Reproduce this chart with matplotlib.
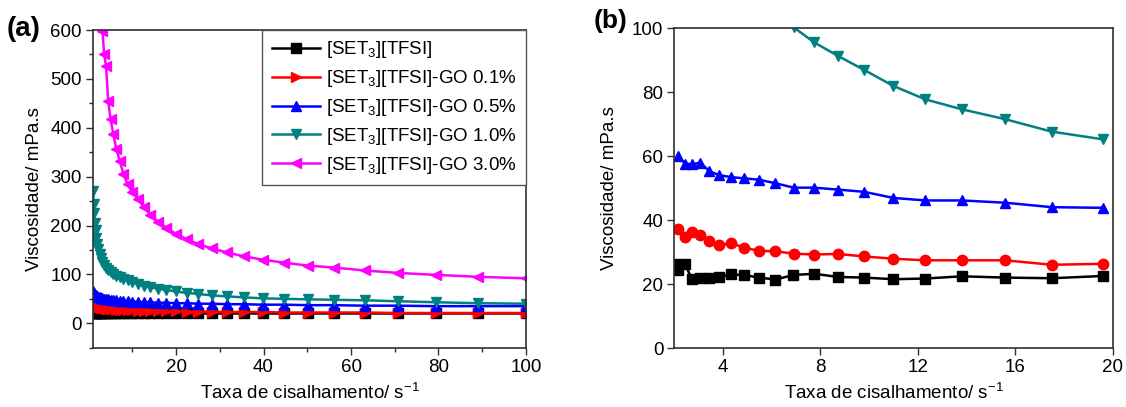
import matplotlib
matplotlib.use("Agg")
import matplotlib.pyplot as plt
from matplotlib.ticker import MultipleLocator

plt.rcParams['font.family'] = ['Liberation Sans', 'DejaVu Sans']
plt.rcParams['mathtext.fontset'] = 'custom'
plt.rcParams['mathtext.rm'] = 'Liberation Sans'
plt.rcParams['mathtext.it'] = 'Liberation Sans:italic'
plt.rcParams['mathtext.bf'] = 'Liberation Sans:bold'

# ---- panel (a): full shear-rate sweep ----
rate_a = [1.00, 1.12, 1.26, 1.41, 1.58, 1.78, 2.00, 2.24, 2.51, 2.82,
          3.16, 3.55, 3.98, 4.47, 5.01, 5.62, 6.31, 7.08, 7.94, 8.91,
          10.0, 11.2, 12.6, 14.1, 15.8, 17.8, 20.0, 22.4, 25.1, 28.2,
          31.6, 35.5, 39.8, 44.7, 50.1, 56.2, 63.1, 70.8, 79.4, 89.1, 100.0]

visc_a_il = [24, 22, 25, 21, 22, 21, 22, 21, 21, 22,
             21, 21, 22, 21, 21, 21, 21, 21, 21, 20,
             21, 20, 20, 21, 20, 20, 20, 20, 20, 20,
             20, 20, 20, 20, 20, 20, 20, 20, 20, 20, 20]
visc_a_go01 = [45, 42, 40, 38, 37, 36, 35, 34, 33, 32,
               31, 31, 30, 30, 29, 29, 28, 28, 27, 27,
               27, 26, 26, 26, 25, 25, 25, 24, 24, 24,
               23, 23, 23, 22, 22, 22, 22, 21, 21, 21, 21]
visc_a_go05 = [65, 62, 60, 58, 57, 56, 55, 54, 53, 52,
               51, 50, 49, 49, 48, 47, 47, 46, 45, 45,
               44, 44, 43, 43, 42, 42, 41, 41, 40, 40,
               39, 39, 38, 38, 37, 37, 36, 36, 35, 35, 35]
visc_a_go10 = [270, 245, 225, 205, 190, 175, 163, 152, 142, 133,
               126, 119, 113, 108, 104, 100, 97, 94, 91, 88,
               85, 81, 77, 74, 71, 68, 65, 62, 60, 57,
               55, 53, 51, 50, 49, 48, 47, 45, 43, 41, 40]
visc_a_go30 = [1650, 1500, 1350, 1220, 1100, 990, 890, 800, 720, 650,
               598, 550, 527, 455, 418, 388, 357, 333, 306, 284,
               268, 255, 238, 222, 208, 195, 183, 172, 162, 153,
               145, 137, 130, 124, 118, 114, 108, 103, 99, 95, 92]

# ---- panel (b): low shear-rate detail ----
rate_b_il = [2.03, 2.16, 2.44, 2.71, 3.06, 3.43, 3.84, 4.33, 4.87, 5.47, 6.14,
             6.89, 7.74, 8.71, 9.79, 10.99, 12.3, 13.8, 15.58, 17.5, 19.6]
visc_b_il = [26.5, 24.4, 26.5, 21.6, 22.1, 22.1, 22.3, 23.1, 22.9, 22.1, 21.5,
             22.9, 23.3, 22.3, 22.1, 21.6, 21.8, 22.5, 22.1, 21.9, 22.6]

rate_b = [2.16, 2.44, 2.73, 3.06, 3.43, 3.84, 4.33, 4.87, 5.46, 6.14,
          6.9, 7.74, 8.71, 9.79, 10.99, 12.3, 13.8, 15.58, 17.5, 19.6]
visc_b_go01 = [37.4, 34.8, 36.3, 35.5, 33.6, 32.2, 32.9, 31.4, 30.5, 30.3,
               29.6, 29.3, 29.5, 28.7, 28.0, 27.5, 27.5, 27.5, 26.1, 26.4]
visc_b_go05 = [60.0, 57.7, 57.5, 58.0, 55.4, 54.1, 53.5, 53.1, 52.7, 51.6,
               50.2, 50.2, 49.6, 48.9, 47.0, 46.2, 46.2, 45.5, 44.1, 43.9]
visc_b_go10 = [178, 167, 157, 148, 140, 132, 125, 118, 112, 106,
               100.3, 95.6, 91.4, 87.0, 82.0, 77.8, 74.7, 71.6, 67.7, 65.3]

labels = ['[SET$_3$][TFSI]', '[SET$_3$][TFSI]-GO 0.1%', '[SET$_3$][TFSI]-GO 0.5%',
          '[SET$_3$][TFSI]-GO 1.0%', '[SET$_3$][TFSI]-GO 3.0%']
colors = ['#000000', '#ff0000', '#0000ff', '#008080', '#ff00ff']
markers_a = ['s', '>', '^', 'v', '<']
markers_b = ['s', 'o', '^', 'v']

spine_col = '#303030'
FS = 13.5

fig = plt.figure(figsize=(11.26, 4.07), dpi=100)
ax_a = fig.add_axes([0.0826, 0.1457, 0.3845, 0.7805])
ax_b = fig.add_axes([0.5989, 0.1442, 0.3893, 0.7863])


def style_axes(ax):
    for sp in ax.spines.values():
        sp.set_color(spine_col)
        sp.set_linewidth(1.2)
    ax.tick_params(which='both', direction='out', top=False, right=False,
                   colors=spine_col, labelcolor='#000000', labelsize=FS, width=1.0)
    ax.tick_params(which='major', length=5, pad=3)
    ax.tick_params(which='minor', length=3)


series_a = [visc_a_il, visc_a_go01, visc_a_go05, visc_a_go10, visc_a_go30]
for vals, c, m, lab in zip(series_a, colors, markers_a, labels):
    ax_a.plot(rate_a, vals, color=c, marker=m, markersize=7.5, linewidth=1.8,
              label=lab)
ax_a.set_xlim(1, 100)
ax_a.set_ylim(-50, 600)
ax_a.xaxis.set_major_locator(MultipleLocator(20))
ax_a.xaxis.set_minor_locator(MultipleLocator(10))
ax_a.yaxis.set_major_locator(MultipleLocator(100))
ax_a.yaxis.set_minor_locator(MultipleLocator(50))
style_axes(ax_a)
ax_a.set_xlabel('Taxa de cisalhamento/ s$^{-1}$', fontsize=FS, labelpad=5)
ax_a.set_ylabel('Viscosidade/ mPa.s', fontsize=FS, labelpad=5)
leg = ax_a.legend(loc='upper right', borderaxespad=0, fontsize=FS,
                  handlelength=2.6, handletextpad=0.3, labelspacing=0.42,
                  borderpad=0.5, fancybox=False, framealpha=1)
leg.get_frame().set_edgecolor('#555555')
leg.get_frame().set_linewidth(1.0)

ax_b.plot(rate_b_il, visc_b_il, color=colors[0], marker=markers_b[0],
          markersize=7, linewidth=1.8)
for vals, c, m in zip([visc_b_go01, visc_b_go05, visc_b_go10], colors[1:4], markers_b[1:]):
    ax_b.plot(rate_b, vals, color=c, marker=m, markersize=7.5, linewidth=1.8)
ax_b.set_xlim(2, 20)
ax_b.set_ylim(0, 100)
ax_b.xaxis.set_major_locator(MultipleLocator(4))
ax_b.yaxis.set_major_locator(MultipleLocator(20))
style_axes(ax_b)
ax_b.set_xlabel('Taxa de cisalhamento/ s$^{-1}$', fontsize=FS, labelpad=5)
ax_b.set_ylabel('Viscosidade/ mPa.s', fontsize=FS, labelpad=10)

fig.text(0.006, 0.928, '(a)', fontsize=20, fontweight='bold', va='center', ha='left')
fig.text(0.527, 0.948, '(b)', fontsize=19, fontweight='bold', va='center', ha='left')

fig.savefig('out.png', dpi=100)
